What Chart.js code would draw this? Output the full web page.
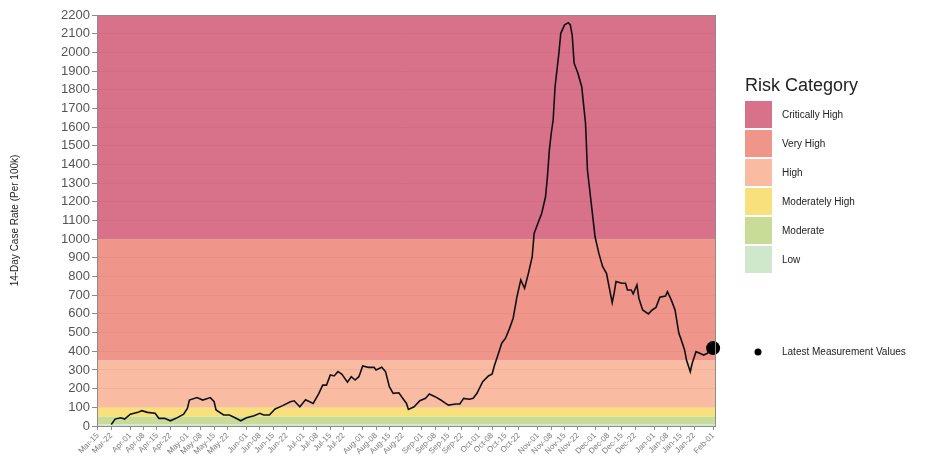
<!DOCTYPE html>
<html>
<head>
<meta charset="utf-8">
<title>14-Day Case Rate</title>
<script src="https://cdn.jsdelivr.net/npm/chart.js@4.4.1/dist/chart.umd.min.js"></script>
<style>
  html, body { margin: 0; padding: 0; background: #fff; }
  #wrap { width: 925px; height: 463px; }
</style>
</head>
<body>
<div id="wrap"><canvas id="rateChart" width="925" height="463"></canvas></div>
<script>
// Days counted from Mar-15-2020 (day 0)
const rateDays = [
  7, 9, 12, 14, 17, 19, 21, 23, 26, 30, 32, 35, 38, 41, 45, 47, 48, 52, 55, 59,
  61, 62, 66, 69, 72, 75, 78, 82, 85, 87, 90, 93, 97, 101, 103, 106, 109, 113, 116, 118,
  120, 122, 124, 126, 128, 131, 133, 135, 137, 139, 142, 145, 146, 149, 151, 153, 155, 158, 160, 162,
  163, 166, 169, 172, 174, 177, 180, 182, 184, 188, 190, 192, 195, 197, 199, 202, 205, 207, 208, 210,
  212, 214, 216, 218, 220, 222, 224, 226, 228, 229, 231, 233, 235, 236, 237, 238, 239, 240, 242, 243,
  245, 247, 248, 249, 250, 252, 254, 256, 257, 259, 261, 263, 265, 267, 270, 271, 272, 275, 277, 278,
  280, 281, 283, 284, 286, 289, 291, 293, 295, 298, 299, 301, 303, 305, 306, 308, 309, 311, 312, 314,
  316, 318, 320, 322, 323
];
const caseRates = [
  8, 37, 44, 37, 63, 68, 73, 82, 73, 68, 41, 41, 28, 41, 63, 95, 139, 152, 139, 152,
  130, 86, 59, 59, 44, 28, 44, 55, 68, 59, 59, 91, 109, 130, 135, 103, 140, 121, 175, 219,
  219, 273, 268, 291, 278, 235, 264, 246, 264, 321, 314, 314, 300, 314, 291, 210, 175, 178, 148, 121,
  89, 103, 135, 148, 171, 157, 139, 125, 112, 118, 118, 148, 143, 148, 175, 237, 268, 278, 318, 380,
  443, 470, 520, 577, 692, 782, 737, 817, 906, 1031, 1085, 1139, 1227, 1335, 1477, 1567, 1638, 1816, 1995, 2102,
  2147, 2159, 2147, 2093, 1942, 1888, 1816, 1620, 1370, 1192, 1013, 924, 853, 817, 660, 710, 773, 764, 764, 728,
  728, 707, 755, 684, 621, 600, 621, 635, 689, 696, 719, 675, 621, 496, 469, 407, 353, 291, 336, 398,
  389, 380, 389, 421, 417
];

const latestDay = 323;
const latestRate = 417;

const tickLabels = [
  'Mar-15', 'Mar-22', 'Apr-01', 'Apr-08', 'Apr-15', 'Apr-22', 'May-01', 'May-08', 'May-15', 'May-22',
  'Jun-01', 'Jun-08', 'Jun-15', 'Jun-22', 'Jul-01', 'Jul-08', 'Jul-15', 'Jul-22', 'Aug-01', 'Aug-08',
  'Aug-15', 'Aug-22', 'Sep-01', 'Sep-08', 'Sep-15', 'Sep-22', 'Oct-01', 'Oct-08', 'Oct-15', 'Oct-22',
  'Nov-01', 'Nov-08', 'Nov-15', 'Nov-22', 'Dec-01', 'Dec-08', 'Dec-15', 'Dec-22', 'Jan-01', 'Jan-08',
  'Jan-15', 'Jan-22', 'Feb-01'
];

const riskCategories = ['Critically High', 'Very High', 'High', 'Moderately High', 'Moderate', 'Low'];
const riskLower = [1000, 350, 100, 50, 10, 0];
const riskUpper = [2200, 1000, 350, 100, 50, 10];
const riskColors = ['#d8728a', '#ef958a', '#f9bca3', '#f8e07c', '#c8dc98', '#cfe8cc'];

// turn 'Mon-DD' into day offset from Mar-15-2020
const monthIdx = { Jan: 0, Feb: 1, Mar: 2, Apr: 3, May: 4, Jun: 5, Jul: 6, Aug: 7, Sep: 8, Oct: 9, Nov: 10, Dec: 11 };
function labelToDay(lbl) {
  const [mon, dd] = lbl.split('-');
  const m = monthIdx[mon];
  const year = m < 2 ? 2021 : 2020;
  return Math.round((Date.UTC(year, m, +dd) - Date.UTC(2020, 2, 15)) / 86400000);
}
const tickDays = tickLabels.map(labelToDay);

const fontFam = '"Liberation Sans", Arial, sans-serif';

// risk bands behind everything
const riskBands = {
  id: 'riskBands',
  beforeDraw(chart) {
    const { ctx, chartArea, scales } = chart;
    ctx.save();
    riskCategories.forEach((c, i) => {
      const top = scales.y.getPixelForValue(riskUpper[i]);
      const bot = scales.y.getPixelForValue(riskLower[i]);
      ctx.fillStyle = riskColors[i];
      ctx.fillRect(chartArea.left, top, chartArea.right - chartArea.left, bot - top);
    });
    ctx.restore();
  },
  afterDraw(chart) {
    const { ctx, chartArea } = chart;
    ctx.save();
    // panel border
    ctx.strokeStyle = '#8c8c8c';
    ctx.lineWidth = 1;
    ctx.strokeRect(chartArea.left + 0.5, chartArea.top + 0.5,
      chartArea.right - chartArea.left - 1, chartArea.bottom - chartArea.top);

    // legend
    ctx.fillStyle = '#222';
    ctx.font = '18px ' + fontFam;
    ctx.textBaseline = 'middle';
    ctx.fillText('Risk Category', 745, 86);
    ctx.font = '10px ' + fontFam;
    riskCategories.forEach((c, i) => {
      const y = 101 + i * 29;
      ctx.fillStyle = riskColors[i];
      ctx.fillRect(745, y, 27, 27);
      ctx.fillStyle = '#222';
      ctx.fillText(c, 782, y + 14);
    });
    ctx.beginPath();
    ctx.arc(758, 352, 3.5, 0, Math.PI * 2);
    ctx.fillStyle = '#000';
    ctx.fill();
    ctx.fillStyle = '#222';
    ctx.fillText('Latest Measurement Values', 782, 352);
    ctx.restore();
  }
};

const ctx = document.getElementById('rateChart').getContext('2d');
const rateChart = new Chart(ctx, {
  type: 'line',
  data: {
    datasets: [
      {
        label: 'Latest Measurement Values',
        data: [{ x: latestDay, y: latestRate }],
        showLine: false,
        pointRadius: 7,
        pointBackgroundColor: '#000',
        pointBorderWidth: 0,
        clip: false
      },
      {
        label: '14-Day Case Rate',
        data: rateDays.map((d, i) => ({ x: d, y: caseRates[i] })),
        borderColor: '#111',
        borderWidth: 1.6,
        pointRadius: 0,
        tension: 0,
        fill: false
      }
    ]
  },
  options: {
    responsive: false,
    animation: false,
    layout: { padding: { top: 15, right: 209, left: 0, bottom: 0 } },
    plugins: {
      legend: { display: false },
      tooltip: { enabled: false }
    },
    scales: {
      x: {
        type: 'linear',
        min: -0.5,
        max: 324.5,
        afterBuildTicks(scale) {
          scale.ticks = tickDays.map(v => ({ value: v }));
        },
        afterFit(scale) { scale.height = 37; },
        grid: { drawOnChartArea: false, color: '#8c8c8c', tickLength: 4 },
        border: { display: false },
        ticks: {
          autoSkip: false,
          minRotation: 45,
          maxRotation: 45,
          padding: 1,
          color: '#7a7a7a',
          font: { family: fontFam, size: 8 },
          callback: (v) => tickLabels[tickDays.indexOf(v)] || ''
        }
      },
      y: {
        min: 0,
        max: 2200,
        afterFit(scale) { scale.width = 97; },
        grid: {
          color: 'rgba(120, 40, 60, 0.06)',
          tickColor: '#8c8c8c',
          tickLength: 5
        },
        border: { display: false },
        ticks: {
          stepSize: 100,
          padding: 2,
          color: '#555',
          font: { family: fontFam, size: 13 },
          callback: (v) => String(v)
        },
        title: {
          display: true,
          text: '14-Day Case Rate (Per 100k)',
          color: '#222',
          padding: { top: 9, bottom: 0 },
          font: { family: fontFam, size: 10 }
        }
      }
    }
  },
  plugins: [riskBands]
});
</script>
</body>
</html>
